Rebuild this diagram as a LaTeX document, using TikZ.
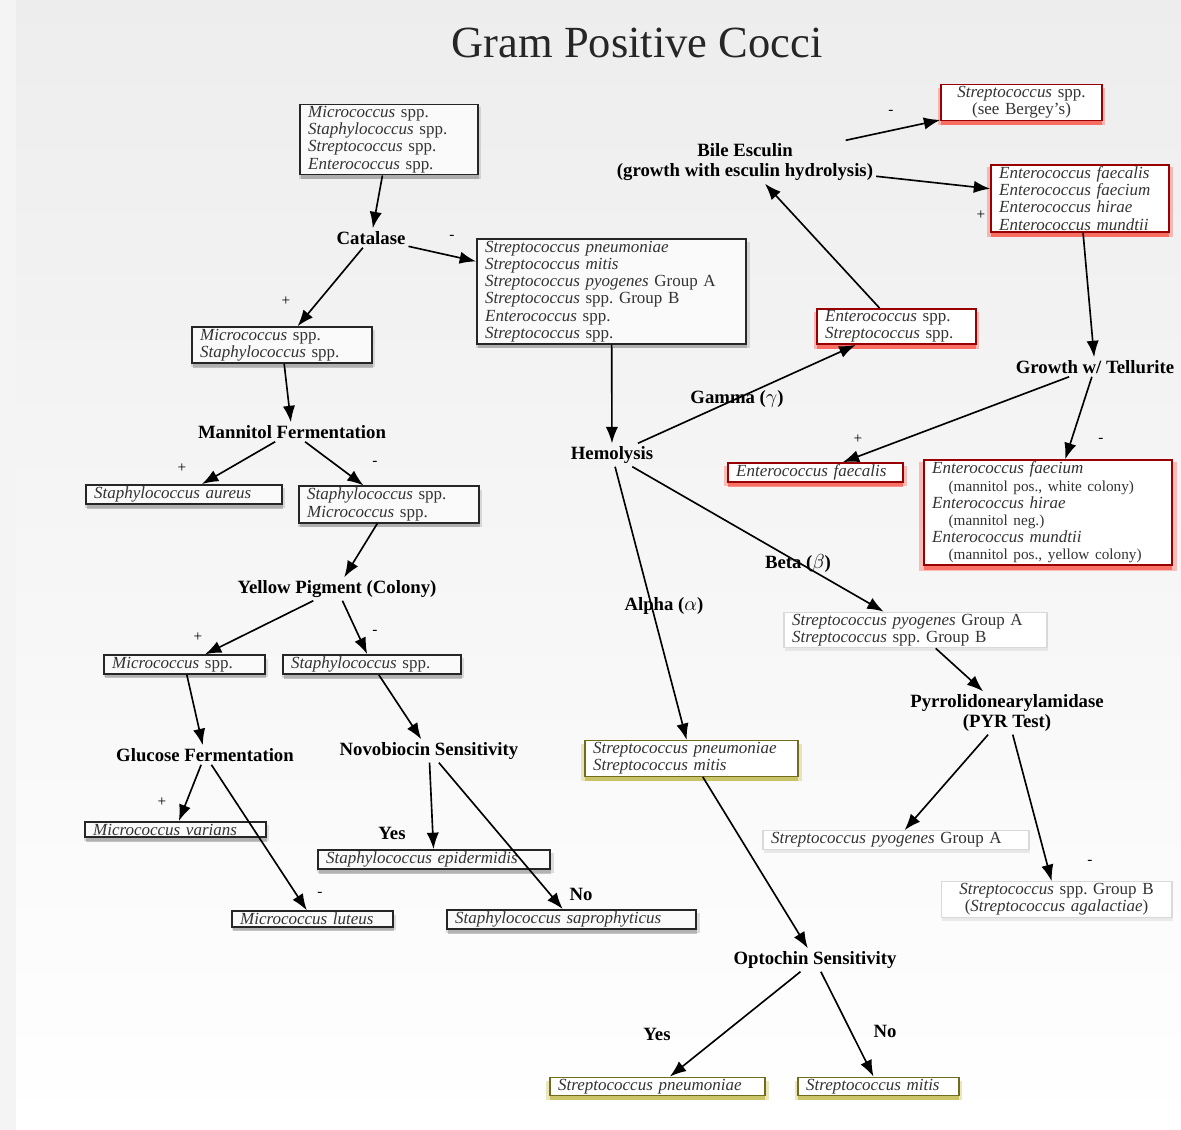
\documentclass[tikz,border=0pt]{standalone}
\usepackage{fontspec}
\setmainfont{Liberation Serif}
\usetikzlibrary{arrows.meta}
\usetikzlibrary{shadows}
\tikzset{>={Latex[length=14pt,width=10.5pt]}}
\tikzstyle{Box}=[align=left, inner xsep=7pt, inner ysep=1.5pt, text=black!80, font=\fontsize{14.5}{14.7}\selectfont]
\tikzstyle{BlkBox}=[Box, draw=black!85, line width=1.6pt, fill=gray!4, drop shadow={shadow xshift=1pt, shadow yshift=-3pt, shadow scale=1.02, opacity=0.25}, drop shadow={shadow xshift=1pt, shadow yshift=-4pt, opacity=0.45}]
\tikzstyle{RedBox}=[Box, draw=red!60!black, line width=1.3pt, fill=white, drop shadow={shadow xshift=0pt, shadow yshift=-3pt, shadow scale=1.04, fill=red!85!orange, opacity=0.25}, drop shadow={shadow xshift=0pt, shadow yshift=-4pt, fill=red!85!orange, opacity=0.45}]
\tikzstyle{GryBox}=[Box, draw=gray!30, line width=1pt, fill=white, drop shadow={shadow xshift=1pt, shadow yshift=-3pt, fill=gray!50, opacity=0.3}]
\tikzstyle{OlvBox}=[Box, draw=olive!75!black, line width=1.3pt, fill=white, drop shadow={shadow xshift=0pt, shadow yshift=-3pt, shadow scale=1.04, fill=olive!70!yellow, opacity=0.25}, drop shadow={shadow xshift=0pt, shadow yshift=-4pt, fill=olive!80!yellow, opacity=0.45}]
\tikzstyle{Test}=[align=center, inner sep=2pt, font=\bfseries\fontsize{16}{17}\selectfont]
\tikzstyle{Sign}=[inner sep=0pt, font=\fontsize{13}{13}\selectfont]

\begin{document}
\begin{tikzpicture}[x=0.03cm, y=-0.03cm, line width=1.4pt]
	%\draw [help lines] (0,0) grid (1181,1130);
	\fill[top color=gray!14, bottom color=white] (0,0) rectangle (1181,1130);
	\fill[gray!9] (0,0) rectangle (16,1130);

	\node[font=\fontsize{38}{40}\selectfont, text=black!85] (title) at (637,43) {Gram Positive Cocci};

	% left side
	\node[BlkBox, text width=138pt] (all) at (389,139.5) {\textit{Micrococcus} spp.\\\textit{Staphylococcus} spp.\\\textit{Streptococcus} spp.\\\textit{Enterococcus} spp.};
	\node[Test] (cat) at (371,238) {Catalase};
	\node[BlkBox, text width=215.6pt] (strep6) at (611.5,291.5) {\textit{Streptococcus pneumoniae}\\\textit{Streptococcus mitis}\\\textit{Streptococcus pyogenes} Group A\\\textit{Streptococcus} spp.\ Group B\\\textit{Enterococcus} spp.\\\textit{Streptococcus} spp.};
	\node[BlkBox, text width=139.6pt] (ms) at (282,345) {\textit{Micrococcus} spp.\\\textit{Staphylococcus} spp.};
	\node[Test] (mann) at (292,432) {Mannitol Fermentation};
	\node[BlkBox, text width=153.3pt] (aur) at (184,494.5) {\textit{Staphylococcus aureus}};
	\node[BlkBox, text width=139.6pt] (sm) at (389,504.5) {\textit{Staphylococcus} spp.\\\textit{Micrococcus} spp.};
	\node[Test] (ylw) at (337,589) {Yellow Pigment (Colony)};
	\node[BlkBox, text width=123.4pt] (mic) at (184.5,664.5) {\textit{Micrococcus} spp.};
	\node[BlkBox, text width=138pt] (sta) at (372,664.5) {\textit{Staphylococcus} spp.};
	\node[Test] (glu) at (205,755) {Glucose Fermentation};
	\node[Test] (novo) at (429,751) {Novobiocin Sensitivity};
	\node[BlkBox, text width=140.5pt] (var) at (175.5,829.5) {\textit{Micrococcus varians}};
	\node[BlkBox, text width=123.4pt] (lut) at (312.5,919) {\textit{Micrococcus luteus}};
	\node[BlkBox, text width=184pt] (epi) at (434,859.5) {\textit{Staphylococcus epidermidis}};
	\node[BlkBox, text width=198.5pt] (sap) at (571.5,919.5) {\textit{Staphylococcus saprophyticus}};

	% right side
	\node[Test] (hemo) at (612,455) {Hemolysis};
	\node[RedBox, text width=121.7pt] (es) at (896.5,326.5) {\textit{Enterococcus} spp.\\\textit{Streptococcus} spp.};
	\node[Test] (bile) at (745,162) {Bile Esculin\\(growth with esculin hydrolysis)};
	\node[RedBox, text width=123.4pt, align=center] (berg) at (1021.5,102.5) {\textit{Streptococcus} spp.\\(see Bergey’s)};
	\node[RedBox, text width=138pt] (ent4) at (1080,198.5) {\textit{Enterococcus faecalis}\\\textit{Enterococcus faecium}\\\textit{Enterococcus hirae}\\\textit{Enterococcus mundtii}};
	\node[Test] (tell) at (1095,367) {Growth w/ Tellurite};
	\node[RedBox, text width=135.4pt] (fcl) at (815.5,472.5) {\textit{Enterococcus faecalis}};
	\node[RedBox, text width=197.7pt] (fcm) at (1048,512.5) {\textit{Enterococcus faecium}\\{\fontsize{13}{13}\selectfont\hspace*{14pt}(mannitol pos., white colony)}\\\textit{Enterococcus hirae}\\{\fontsize{13}{13}\selectfont\hspace*{14pt}(mannitol neg.)}\\\textit{Enterococcus mundtii}\\{\fontsize{13}{13}\selectfont\hspace*{14pt}(mannitol pos., yellow colony)}};
	\node[GryBox, text width=210.5pt] (pyoB) at (915.5,630) {\textit{Streptococcus pyogenes} Group A\\\textit{Streptococcus} spp.\ Group B};
	\node[Test] (pyr) at (1007,713) {Pyrrolidonearylamidase\\(PYR Test)};
	\node[GryBox, text width=213pt] (pyoA) at (896,840) {\textit{Streptococcus pyogenes} Group A};
	\node[GryBox, text width=183pt, align=center] (grpB) at (1056.5,899.5) {\textit{Streptococcus} spp.\ Group B\\(\textit{Streptococcus agalactiae})};
	\node[OlvBox, text width=167.8pt] (pm) at (691.5,758.5) {\textit{Streptococcus pneumoniae}\\\textit{Streptococcus mitis}};
	\node[Test] (opto) at (815,960) {Optochin Sensitivity};
	\node[OlvBox, text width=169.5pt] (pneu) at (657.5,1086.5) {\textit{Streptococcus pneumoniae}};
	\node[OlvBox, text width=123.4pt] (mit) at (878.5,1086.5) {\textit{Streptococcus mitis}};

	% edge labels
	\node[Test] (lgam) at (737,399) {Gamma ($\gamma$)};
	\node[Test] (lbet) at (798,563) {Beta ($\beta$)};
	\node[Test] (lalp) at (664,606) {Alpha ($\alpha$)};
	\node[Test] (lyes1) at (392,833) {Yes};
	\node[Test] (lno1) at (581,894) {No};
	\node[Test] (lyes2) at (657,1034) {Yes};
	\node[Test] (lno2) at (885,1031) {No};
	\node[Sign] (s1) at (452,237) {-};
	\node[Sign] (s2) at (286,301) {+};
	\node[Sign] (s3) at (182,468) {+};
	\node[Sign] (s4) at (375,463) {-};
	\node[Sign] (s5) at (198,637) {+};
	\node[Sign] (s6) at (375,632) {-};
	\node[Sign] (s7) at (162,802) {+};
	\node[Sign] (s8) at (320,894) {-};
	\node[Sign] (s9) at (891,112) {-};
	\node[Sign] (s10) at (981,215) {+};
	\node[Sign] (s11) at (858,439) {+};
	\node[Sign] (s12) at (1101,440) {-};
	\node[Sign] (s13) at (1090,862) {-};

	% connectors
	\draw[->] (all) -- (cat);
	\draw[->] (cat) -- (strep6);
	\draw[->] (cat) -- (ms);
	\draw[->] (ms) -- (mann);
	\draw[->] (mann) -- (aur);
	\draw[->] (mann) -- (sm);
	\draw[->] (sm) -- (ylw);
	\draw[->] (ylw) -- (mic);
	\draw[->] (ylw) -- (sta);
	\draw[->] (mic) -- (glu);
	\draw[->] (sta) -- (novo);
	\draw[->] (glu) -- (var);
	\draw[->] (glu) -- (lut);
	\draw[->] (novo) -- (epi);
	\draw[->] (novo) -- (sap);
	\draw[->] (strep6) -- (hemo);
	\draw[->] (hemo) -- (es);
	\draw[->] (es) -- (bile);
	\draw[->] (bile) -- (berg);
	\draw[->] (bile) -- (ent4);
	\draw[->] (ent4) -- (tell);
	\draw[->] (tell) -- (fcl);
	\draw[->] (tell) -- (fcm);
	\draw[->] (hemo) -- (pyoB);
	\draw[->] (hemo) -- (pm);
	\draw[->] (pyoB) -- (pyr);
	\draw[->] (pyr) -- (pyoA);
	\draw[->] (pyr) -- (grpB);
	\draw[->] (pm) -- (opto);
	\draw[->] (opto) -- (pneu);
	\draw[->] (opto) -- (mit);
\end{tikzpicture}
\end{document}
